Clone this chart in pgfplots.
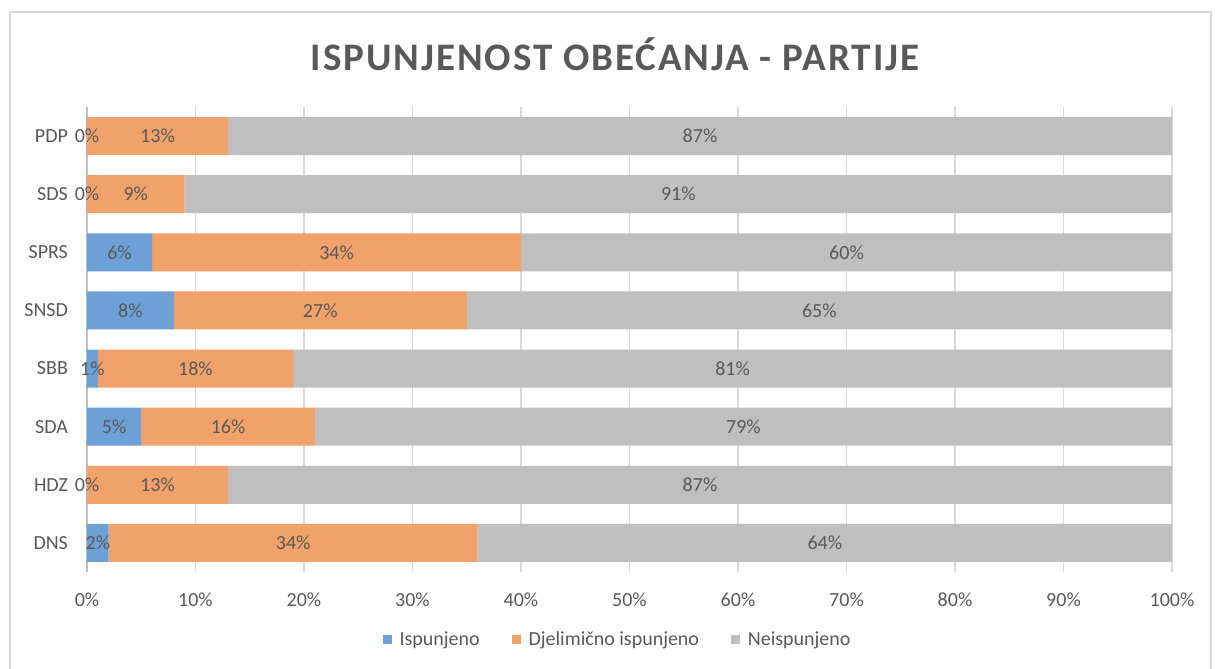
\documentclass[border=0pt]{standalone}
\usepackage{fontspec}
\setmainfont{Carlito}
\usepackage{pgfplots}
\usepackage{pgfplotstable}
\pgfplotsset{compat=1.18}
\definecolor{cblue}{HTML}{6CA0D6}
\definecolor{corange}{HTML}{F1A26A}
\definecolor{cgray}{HTML}{BFBFBF}
\definecolor{ctext}{HTML}{595959}
\definecolor{cgrid}{HTML}{D9D9D9}
\pgfplotstableread{
y a b c
0 2 34 64
1 0 13 87
2 5 16 79
3 1 18 81
4 8 27 65
5 6 34 60
6 0 9 91
7 0 13 87
}\data
\begin{document}
\begin{tikzpicture}
\useasboundingbox (0pt,0pt) rectangle (607.5pt,334.5pt);
\draw[cgrid,line width=0.8pt] (5pt,-5pt) -- (5pt,328.5pt) -- (605.5pt,328.5pt) -- (605.5pt,-5pt);
\node[anchor=base, font=\bfseries\fontsize{19.5}{23}\selectfont\addfontfeature{LetterSpace=5},text=ctext] at (307.5pt,299pt) {ISPUNJENOST OBEĆANJA - PARTIJE};
\begin{axis}[
  at={(43.5pt,48.5pt)}, anchor=south west,
  scale only axis, width=542.5pt, height=232.5pt,
  xbar stacked, bar width=19pt,
  xmin=0, xmax=100, ymin=-0.5, ymax=7.5,
  xtick={0,10,...,100},
  xticklabel={\pgfmathprintnumber{\tick}\%},
  ytick={0,...,7},
  yticklabels={DNS,HDZ,SDA,SBB,SNSD,SPRS,SDS,PDP},
  major tick length=0pt,
  xmajorgrids, grid style={cgrid, line width=0.6pt},
  axis lines*=left,
  x axis line style={draw=none},
  y axis line style={draw=cgray, line width=0.8pt},
  tick label style={font=\fontsize{10}{12}\selectfont, text=ctext},
  xticklabel style={yshift=-7pt},
  yticklabel style={xshift=-6pt},
  /pgf/number format/assume math mode=true,
  legend style={at={(0.49,-0.146)}, anchor=center, draw=none, legend columns=3,
    font=\fontsize{10}{12}\selectfont, text=ctext,
    /tikz/every odd column/.append style={column sep=2pt},
    /tikz/every even column/.append style={column sep=14pt}},
  legend image code/.code={\fill[#1] (0pt,-2.2pt) rectangle (4.4pt,2.2pt);},
]
\addplot[fill=cblue, draw=none] table[x=a, y=y] \data;
\addplot[fill=corange, draw=none] table[x=b, y=y] \data;
\addplot[fill=cgray, draw=none] table[x=c, y=y] \data;
\legend{Ispunjeno, Djelimično ispunjeno, Neispunjeno}
\end{axis}
\begin{axis}[
  at={(43.5pt,48.5pt)}, anchor=south west,
  scale only axis, width=542.5pt, height=232.5pt,
  xmin=0, xmax=100, ymin=-0.5, ymax=7.5,
  hide axis,
  /pgf/number format/assume math mode=true,
  point meta=explicit,
  nodes near coords={\pgfmathprintnumber[fixed,precision=0,assume math mode=true]{\pgfplotspointmeta}\%},
  every node near coord/.append style={anchor=center, font=\fontsize{10}{12}\selectfont, text=ctext},
]
\addplot[only marks, mark=none] table[x expr=\thisrow{a}/2, y=y, meta=a] \data;
\addplot[only marks, mark=none] table[x expr=\thisrow{a}+\thisrow{b}/2, y=y, meta=b] \data;
\addplot[only marks, mark=none] table[x expr=\thisrow{a}+\thisrow{b}+\thisrow{c}/2, y=y, meta=c] \data;
\end{axis}
\end{tikzpicture}
\end{document}
